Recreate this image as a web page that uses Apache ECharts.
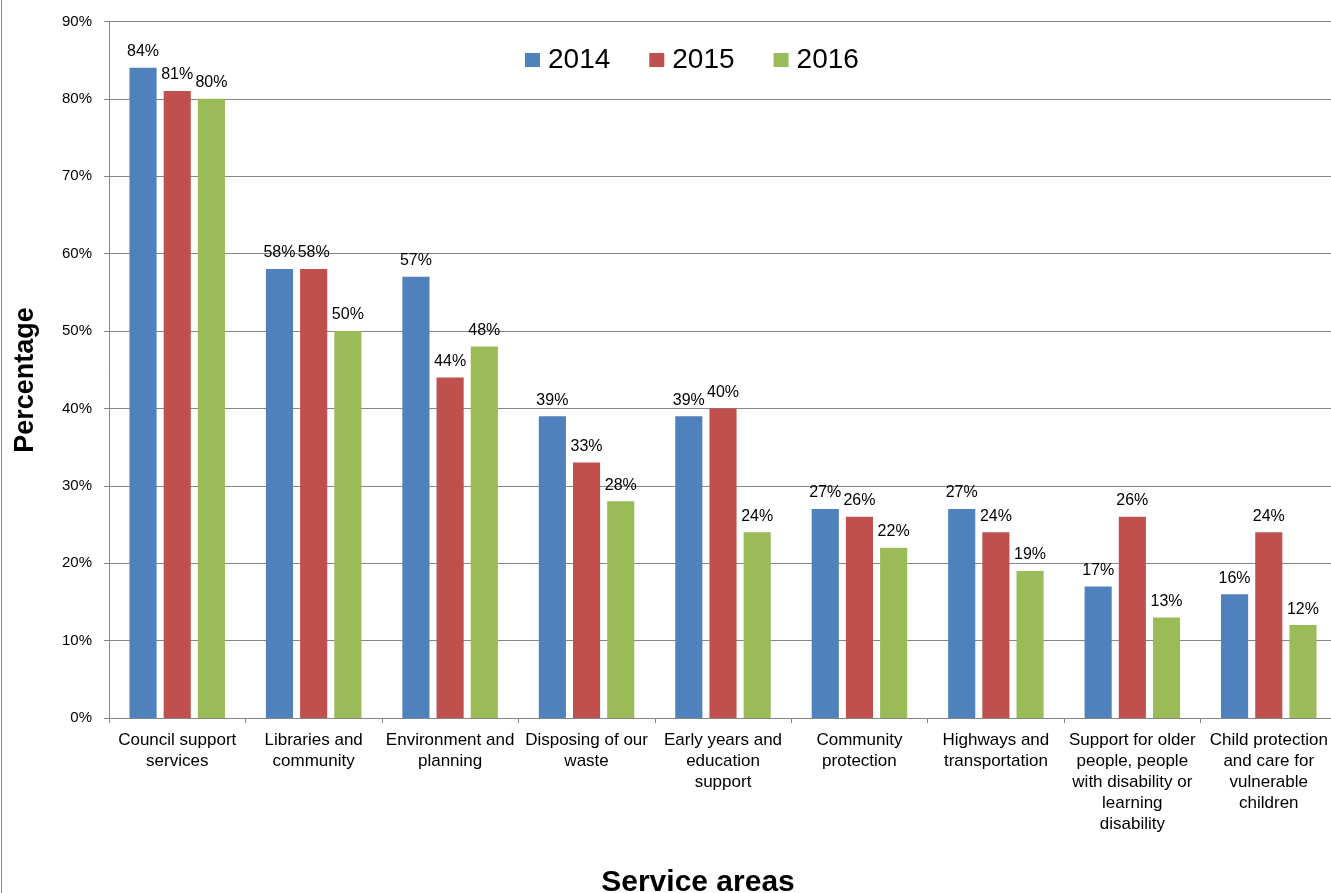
<!DOCTYPE html>
<html>
<head>
<meta charset="utf-8">
<script src="https://cdn.jsdelivr.net/npm/echarts@6/dist/echarts.min.js"></script>
<style>
  html, body { margin: 0; padding: 0; background: #fff; overflow: hidden; }
  /* the plot runs slightly past the right edge of the window */
  #chart { width: 1346px; height: 893px; }
</style>
</head>
<body>
<div id="chart"></div>
<script>
// Service areas on the x axis (line breaks follow the wrapped labels)
const categories = [
  'Council support\nservices',
  'Libraries and\ncommunity',
  'Environment and\nplanning',
  'Disposing of our\nwaste',
  'Early years and\neducation\nsupport',
  'Community\nprotection',
  'Highways and\ntransportation',
  'Support for older\npeople, people\nwith disability or\nlearning\ndisability',
  'Child protection\nand care for\nvulnerable\nchildren'
];

// Percentages per year
const values2014 = [84, 58, 57, 39, 39, 27, 27, 17, 16];
const values2015 = [81, 58, 44, 33, 40, 26, 24, 26, 24];
const values2016 = [80, 50, 48, 28, 24, 22, 19, 13, 12];

const years = ['2014', '2015', '2016'];
const colors = ['#4F81BD', '#C0504D', '#9BBB59'];

const font = 'Liberation Sans, Arial, sans-serif';

const chart = echarts.init(document.getElementById('chart'), null, { renderer: 'canvas' });

const makeSeries = (name, data, color) => ({
  name: name,
  type: 'bar',
  data: data,
  barGap: '26%',
  barCategoryGap: '30%',
  itemStyle: { color: color },
  label: {
    show: true,
    position: 'top',
    distance: 8,
    formatter: '{c}%',
    color: '#000',
    fontSize: 16,
    fontFamily: font
  }
});

chart.setOption({
  animation: false,
  backgroundColor: '#fff',
  color: colors,
  grid: { left: 109, top: 21.4, width: 1228, height: 696.6, containLabel: false },
  legend: {
    data: years,
    left: 520,
    top: 41,
    icon: 'rect',
    itemWidth: 15,
    itemHeight: 14,
    itemGap: 39,
    textStyle: { fontSize: 28, color: '#000', fontFamily: font, padding: [0, 0, 0, 3] }
  },
  xAxis: {
    type: 'category',
    data: categories,
    boundaryGap: true,
    axisLine: { lineStyle: { color: '#868686', width: 1 } },
    axisTick: { show: true, length: 5, lineStyle: { color: '#868686' } },
    axisLabel: {
      interval: 0,
      color: '#000',
      fontSize: 17,
      lineHeight: 21,
      margin: 12,
      fontFamily: font
    }
  },
  yAxis: {
    type: 'value',
    min: 0,
    max: 90,
    interval: 10,
    axisLine: { show: true, lineStyle: { color: '#868686' } },
    axisTick: { show: true, length: 5, lineStyle: { color: '#868686' } },
    axisLabel: {
      formatter: '{value}%',
      color: '#000',
      fontSize: 15,
      margin: 17,
      fontFamily: font
    },
    splitLine: { show: true, lineStyle: { color: '#868686', width: 1 } }
  },
  graphic: [
    {
      type: 'text',
      x: 26,
      y: 380,
      rotation: Math.PI / 2,
      style: {
        text: 'Percentage',
        align: 'center',
        verticalAlign: 'middle',
        fontSize: 27,
        fontWeight: 'bold',
        fill: '#000',
        fontFamily: font
      }
    },
    {
      type: 'text',
      x: 698,
      y: 883,
      style: {
        text: 'Service areas',
        align: 'center',
        verticalAlign: 'middle',
        fontSize: 30,
        fontWeight: 'bold',
        fill: '#000',
        fontFamily: font
      }
    },
    {
      type: 'line',
      shape: { x1: 1.5, y1: 0, x2: 1.5, y2: 893 },
      style: { stroke: '#868686', lineWidth: 1 }
    }
  ],
  series: [
    makeSeries(years[0], values2014, colors[0]),
    makeSeries(years[1], values2015, colors[1]),
    makeSeries(years[2], values2016, colors[2])
  ]
});
</script>
</body>
</html>
